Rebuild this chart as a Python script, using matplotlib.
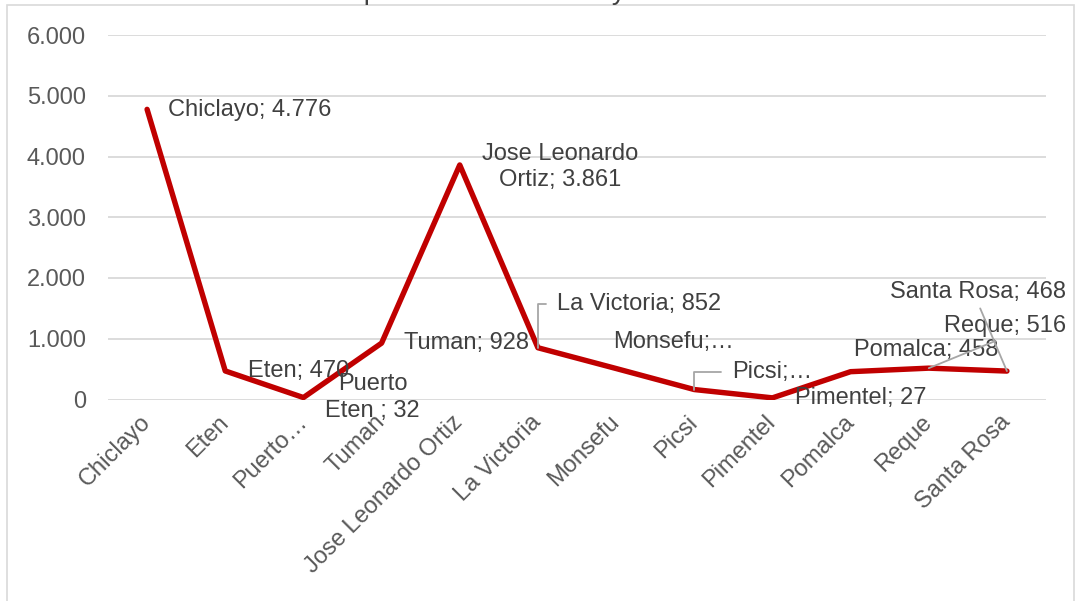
import matplotlib
matplotlib.use("Agg")
import matplotlib.pyplot as plt
from matplotlib.patches import Rectangle

plt.rcParams['font.family'] = ['Liberation Sans', 'DejaVu Sans']

# datos por distrito
distritos = ["Chiclayo", "Eten", "Puerto Eten", "Tuman", "Jose Leonardo Ortiz", "La Victoria",
             "Monsefu", "Picsi", "Pimentel", "Pomalca", "Reque", "Santa Rosa"]
tick_labels = ["Chiclayo", "Eten", "Puerto…", "Tuman", "Jose Leonardo Ortiz", "La Victoria",
               "Monsefu", "Picsi", "Pimentel", "Pomalca", "Reque", "Santa Rosa"]
valores = [4776, 470, 32, 928, 3861, 852, 510, 164, 27, 458, 516, 468]
etiquetas = ["Chiclayo; 4.776", "Eten; 470", "Puerto\nEten ; 32", "Tuman; 928",
             "Jose Leonardo\nOrtiz; 3.861", "La Victoria; 852", "Monsefu;…", "Picsi;…",
             "Pimentel; 27", "Pomalca; 458", "Reque; 516", "Santa Rosa; 468"]
y_ticks = [0, 1000, 2000, 3000, 4000, 5000, 6000]

W, H = 1077, 601
fig = plt.figure(figsize=(W / 100, H / 100), dpi=100)
ax = fig.add_axes([108 / W, (H - 399.5) / H, (1046 - 108) / W, (399.5 - 35) / H])

x = list(range(len(distritos)))
ax.plot(x, valores, color="#C00000", lw=3.9, solid_joinstyle="round", solid_capstyle="round", zorder=3)

ax.set_xlim(-0.5, len(distritos) - 0.5)
ax.set_ylim(0, 6000)
ax.set_yticks(y_ticks)
ax.set_yticklabels([f"{v:,.0f}".replace(",", ".") for v in y_ticks])
ax.set_xticks(x)
ax.set_xticklabels(tick_labels, rotation=45, ha="right", va="center", rotation_mode="anchor")
ax.tick_params(axis="both", length=0, labelsize=17, labelcolor="#595959")
ax.tick_params(axis="y", pad=16)
ax.tick_params(axis="x", pad=14)
ax.grid(axis="y", color="#d9d9d9", lw=1.3)
ax.set_axisbelow(True)
for s in ax.spines.values():
    s.set_visible(False)

# posicion de cada etiqueta (offset en pixeles), alineacion y linea guia
lab_cfg = [
    ((21, -1), "left", None),
    ((23, 0), "left", None),
    ((69, 0), "center", None),
    ((22, 0), "left", None),
    ((100, -2), "center", None),
    ((19, 44), "left", "angle"),
    ((-3, 27), "left", None),
    ((38, 18), "left", "angle"),
    ((23, 0), "left", None),
    ((3, 22), "left", None),
    ((76, 42), "center", "line"),
    ((-29, 79), "center", "line"),
]
for i, (txt, (off, ha, guia)) in enumerate(zip(etiquetas, lab_cfg)):
    kw = {}
    if guia == "angle":
        kw["arrowprops"] = dict(arrowstyle="-", color="#a6a6a6", lw=1.3, shrinkA=6, shrinkB=0,
                                connectionstyle="angle,angleA=180,angleB=90,rad=0", relpos=(0, 0.5))
    elif guia == "line":
        kw["arrowprops"] = dict(arrowstyle="-", color="#a6a6a6", lw=1.3, shrinkA=2, shrinkB=0,
                                relpos=(0.5, 0))
    ax.annotate(txt, (x[i], valores[i]), xytext=off, textcoords="offset pixels",
                ha=ha, va="center", fontsize=17, color="#404040", linespacing=1.25,
                multialignment="center", zorder=4, **kw)

# borde del area del grafico
fig.patches.append(Rectangle((7 / W, -0.02), (1074 - 7) / W, 1 - 5 / H + 0.02,
                             transform=fig.transFigure, fill=False, ec="#d9d9d9", lw=1.2))

# titulo cortado arriba
fig.text(259 / W, 1 + 1 / H, "Total de pacientes en el año y distrito", fontsize=20,
         color="#404040", ha="left", va="baseline")

fig.savefig("out.png", dpi=100)
